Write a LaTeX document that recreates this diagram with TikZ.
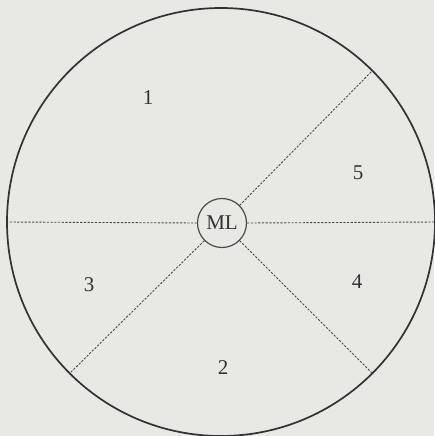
\documentclass[tikz,border=0pt]{standalone}
\usepackage{fontspec}
\setmainfont{Liberation Serif}
\definecolor{paper}{RGB}{232,232,229}
\definecolor{ink}{RGB}{50,50,50}
\definecolor{dashink}{RGB}{75,75,75}
\tikzset{
  outer/.style={circle, draw=ink, line width=1.7pt, minimum size=428pt, inner sep=0pt},
  core/.style={circle, draw=dashink, line width=1.2pt, minimum size=49pt, inner sep=0pt, text=ink, font=\fontsize{21}{23}\selectfont},
  divider/.style={draw=dashink, line width=0.9pt, dash pattern=on 2.2pt off 1.5pt},
  sector/.style={text=ink, font=\fontsize{21}{23}\selectfont}
}
\begin{document}
\begin{tikzpicture}[x=1pt,y=-1pt]
\useasboundingbox (0,0) rectangle (434,436);
\fill[paper] (0,0) rectangle (434,436);
\node[outer] (big) at (221,222) {};
\node[core] (ml) at (222,223) {ML};
\draw[divider] (big.180) -- (ml.180);
\draw[divider] (ml.0) -- (big.0);
\draw[divider] (ml.45) -- (big.45);
\draw[divider] (ml.-45) -- (big.-45);
\draw[divider] (ml.225) -- (big.225);
\node[sector] (s1) at (148,98) {1};
\node[sector] (s5) at (358,173) {5};
\node[sector] (s3) at (89,285) {3};
\node[sector] (s4) at (357,282) {4};
\node[sector] (s2) at (223,368) {2};
\end{tikzpicture}
\end{document}
